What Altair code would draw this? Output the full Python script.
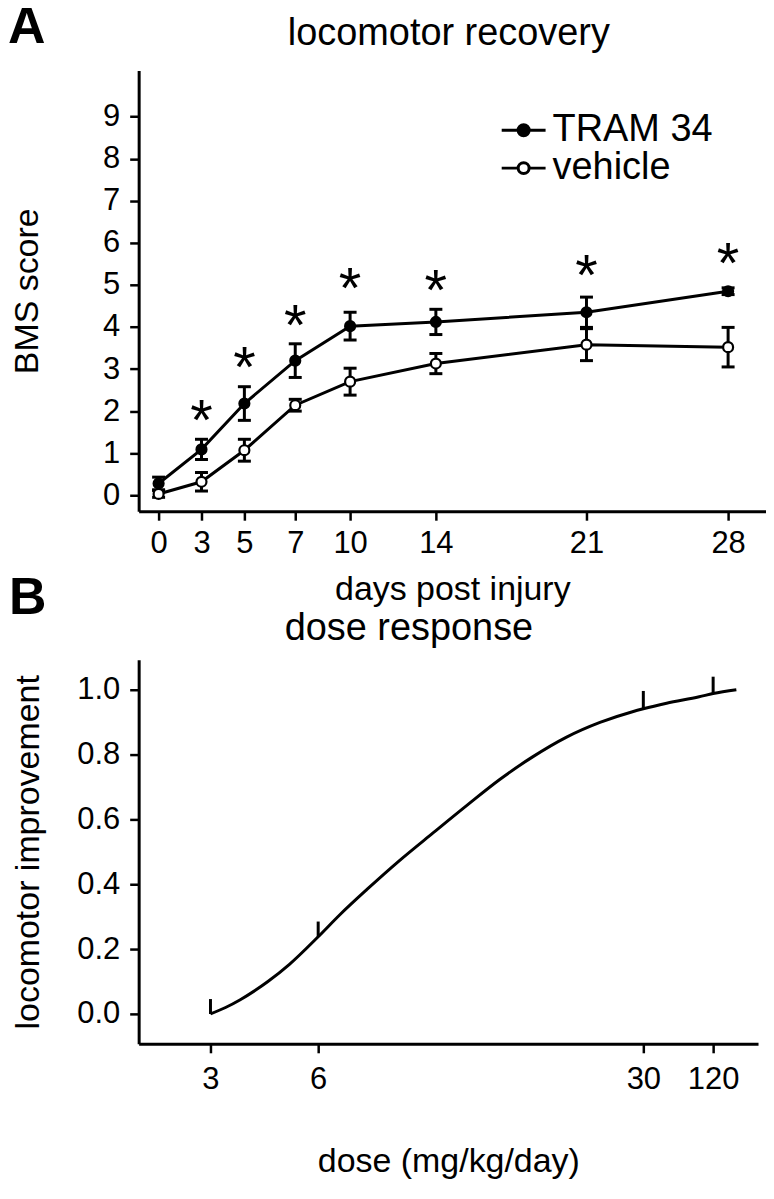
import altair as alt
import pandas as pd

# ---------------- data: panel A (locomotor recovery) ----------------
days = [0, 3, 5, 7, 10, 14, 21, 28]
series_names = ["TRAM 34", "vehicle"]
tram_mean = [0.28, 1.09, 2.18, 3.20, 4.02, 4.12, 4.35, 4.85]
tram_sem = [0.15, 0.24, 0.40, 0.40, 0.33, 0.30, 0.36, 0.08]
veh_mean = [0.03, 0.32, 1.07, 2.14, 2.70, 3.13, 3.58, 3.52]
veh_sem = [0.08, 0.22, 0.26, 0.14, 0.32, 0.24, 0.38, 0.47]
star_days = [3, 5, 7, 10, 14, 21, 28]
star_heights = [2.0, 3.27, 4.27, 5.14, 5.10, 5.45, 5.73]
bms_ticks = [0, 1, 2, 3, 4, 5, 6, 7, 8, 9]

# ---------------- data: panel B (dose response) ----------------
curve_dose = [3, 3.42, 3.83, 4.25, 4.6, 5.2, 6, 7.6, 9.6, 12, 14.5, 17, 19.4,
              21.8, 24.3, 26.8, 29.2, 30, 60, 102, 120, 150]
curve_resp = [0.0, 0.02, 0.044, 0.073, 0.1, 0.153, 0.238, 0.306, 0.384, 0.473,
              0.559, 0.644, 0.723, 0.792, 0.853, 0.899, 0.932, 0.941, 0.958,
              0.978, 0.988, 1.0]
dose_levels = [3, 6, 30, 120]
dose_mean = [0.0, 0.238, 0.941, 0.988]
dose_sem = [0.046, 0.047, 0.055, 0.052]
resp_ticks = [0.0, 0.2, 0.4, 0.6, 0.8, 1.0]

FONT = "Liberation Sans"
LW = 3

dfA = pd.DataFrame({
    "day": days * 2,
    "series": [series_names[0]] * len(days) + [series_names[1]] * len(days),
    "mean": tram_mean + veh_mean,
    "sem": tram_sem + veh_sem,
})
dfA["lo"] = dfA["mean"] - dfA["sem"]
dfA["hi"] = dfA["mean"] + dfA["sem"]
dfStars = pd.DataFrame({"day": star_days, "h": star_heights})

dfCurve = pd.DataFrame({"dose": curve_dose, "resp": curve_resp})
dfDose = pd.DataFrame({"dose": dose_levels, "mean": dose_mean, "sem": dose_sem})
dfDose["hi"] = dfDose["mean"] + dfDose["sem"]

axis_style = dict(
    domainColor="black", domainWidth=3, tickColor="black", tickWidth=2.5,
    tickSize=9, labelColor="black", labelFont=FONT, labelFontSize=31,
    titleFont=FONT, titleFontSize=34, titleFontWeight="normal",
    titleColor="black", grid=False, labelOverlap=False, labelFlush=False,
)


def label_text(text, x, y, size, weight="normal", align="left"):
    return alt.Chart(pd.DataFrame({"t": [text]})).mark_text(
        fontSize=size, fontWeight=weight, font=FONT, color="black",
        align=align, baseline="alphabetic").encode(
        x=alt.value(x), y=alt.value(y), text="t:N")


# ---- panel A scales (piecewise x scale follows the original's uneven axis) ----
scaleAx = alt.Scale(domain=[-1.4] + days + [29.9],
                    range=[0, 20, 63, 106, 157, 212, 298, 449, 591, 629],
                    nice=False, zero=False)
scaleAy = alt.Scale(domain=[-0.38, 10.1], nice=False, zero=False)
axisAx = alt.Axis(values=days, title="days post injury", labelPadding=8,
                  titlePadding=15, **axis_style)
axisAy = alt.Axis(values=bms_ticks, title="BMS score", labelPadding=10,
                  titlePadding=58, **axis_style)


def xA(field="day"):
    return alt.X(f"{field}:Q", scale=scaleAx, axis=axisAx)


def yA(field):
    return alt.Y(f"{field}:Q", scale=scaleAy, axis=axisAy)


baseA = alt.Chart(dfA)
rulesA = baseA.mark_rule(color="black", strokeWidth=LW).encode(
    x=xA(), y=yA("lo"), y2="hi:Q")
capLo = baseA.mark_tick(orient="horizontal", size=13, thickness=LW,
                        color="black", opacity=1).encode(x=xA(), y=yA("lo"))
capHi = baseA.mark_tick(orient="horizontal", size=13, thickness=LW,
                        color="black", opacity=1).encode(x=xA(), y=yA("hi"))
lineA = baseA.mark_line(color="black", strokeWidth=LW).encode(
    x=xA(), y=yA("mean"), detail="series:N")

legend_symbol = "M-4,0L-1,0M1,0L4,0M-1,0A1,1,0,1,1,1,0A1,1,0,1,1,-1,0Z"
pointsA = baseA.mark_point(shape="circle", filled=True, stroke="black",
                           strokeWidth=2.2, size=100, opacity=1).encode(
    x=xA(), y=yA("mean"),
    fill=alt.Fill("series:N",
                  scale=alt.Scale(domain=series_names, range=["black", "white"]),
                  legend=alt.Legend(
                      title=None, orient="none", legendX=367, legendY=41,
                      symbolType=legend_symbol, symbolSize=121,
                      symbolStrokeColor="black", symbolStrokeWidth=LW,
                      symbolOpacity=1,
                      labelFont=FONT, labelFontSize=38, labelColor="black",
                      labelOffset=10, labelLimit=400, rowPadding=-12, padding=0)),
)
starsA = alt.Chart(dfStars).mark_text(
    text="*", fontSize=58, font=FONT, color="black", dy=29,
    baseline="alphabetic").encode(x=xA(), y=yA("h"))
letterA = label_text("A", -131, -27, 52, weight="bold")
titleA = label_text("locomotor recovery", 311, -25, 38, align="center")

panelA = alt.layer(rulesA, capLo, capHi, lineA, pointsA, starsA, letterA,
                   titleA).properties(width=629, height=442)

# ---- panel B ----
scaleBx = alt.Scale(domain=[1] + dose_levels + [178],
                    range=[0, 72, 180, 506, 576, 621], nice=False, zero=False)
scaleBy = alt.Scale(domain=[-0.092, 1.092], nice=False, zero=False)
axisBx = alt.Axis(values=dose_levels, format="d", title="dose (mg/kg/day)",
                  labelPadding=12, titlePadding=50, **axis_style)
axisBy = alt.Axis(values=resp_ticks, format=".1f", title="locomotor improvement",
                  labelPadding=10, titlePadding=31, **axis_style)

curveB = alt.Chart(dfCurve).mark_line(color="black", strokeWidth=LW,
                                      interpolate="monotone").encode(
    x=alt.X("dose:Q", scale=scaleBx, axis=axisBx),
    y=alt.Y("resp:Q", scale=scaleBy, axis=axisBy))
errB = alt.Chart(dfDose).mark_rule(color="black", strokeWidth=LW).encode(
    x=alt.X("dose:Q", scale=scaleBx, axis=axisBx),
    y=alt.Y("mean:Q", scale=scaleBy, axis=axisBy), y2="hi:Q")
letterB = label_text("B", -130, -46, 52, weight="bold")
titleB = label_text("dose response", 271, -20, 38, align="center")

panelB = alt.layer(curveB, errB, letterB, titleB).properties(width=621, height=385)

chart = alt.vconcat(panelA, panelB, spacing=149, bounds="flush",
                    padding={"top": -8, "left": 0, "right": 0, "bottom": 0}
                    ).resolve_scale(fill="independent").configure_view(strokeWidth=0)

chart.save("out.html", embed_options={"renderer": "svg", "actions": False})
